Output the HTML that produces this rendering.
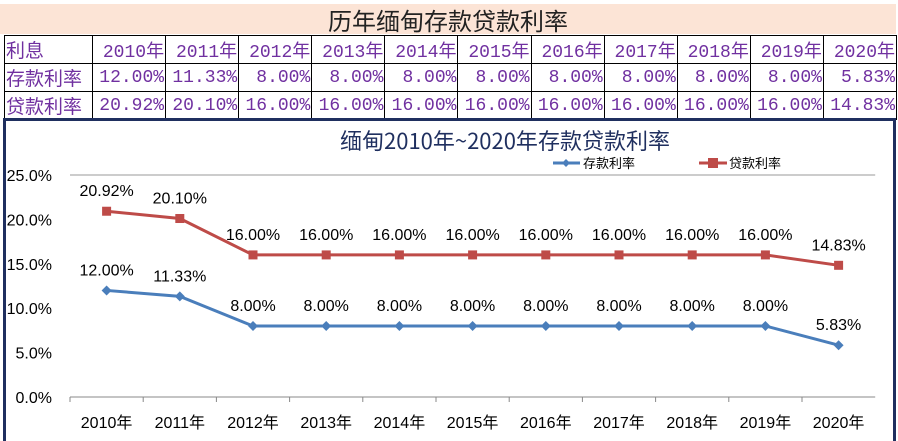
<!DOCTYPE html>
<html><head><meta charset="utf-8"><style>
body{margin:0;width:898px;height:441px;background:#fff;position:relative;overflow:hidden;font-family:"Liberation Sans","Noto Sans CJK SC",sans-serif}
#title{position:absolute;left:0;top:4px;width:896px;height:30px;background:#fce4d6;text-align:center;font:24px/32px "Noto Sans CJK SC","WenQuanYi Zen Hei",sans-serif;color:#222}
table{position:absolute;left:4px;top:35px;border-collapse:collapse;table-layout:fixed;width:892px;font-family:"Liberation Mono","Noto Sans CJK SC",monospace}
td{border:1.5px solid #000;height:23px;padding:0 1px;font-size:18px;text-align:right;white-space:nowrap;overflow:hidden;color:#7030a0}
tr:first-child td{color:#000;font-weight:bold;text-align:center;font-family:"Liberation Sans","Noto Sans CJK SC",sans-serif}
td:first-child{text-align:left;font-family:"Noto Sans CJK SC",sans-serif;font-size:19px}
tr:first-child td:first-child{text-align:left}
#box{position:absolute;left:3px;top:118px;width:887px;height:320px;border:3px solid #1f2f5f;border-bottom:none}
</style></head><body>
<div id="title">历年缅甸存款贷款利率</div>
<table id="tbl"><colgroup><col style="width:88px"><col span="11" style="width:73.1px"></colgroup></table>
<div id="box"></div>
<svg id="chart" width="898" height="441" style="position:absolute;left:0;top:0"></svg>
<script>
const years=["2010年","2011年","2012年","2013年","2014年","2015年","2016年","2017年","2018年","2019年","2020年"];
const deposit=[12.00,11.33,8.00,8.00,8.00,8.00,8.00,8.00,8.00,8.00,5.83];
const loan=[20.92,20.10,16.00,16.00,16.00,16.00,16.00,16.00,16.00,16.00,14.83];
const yTicks=[0,5,10,15,20,25];
const tbl=document.getElementById('tbl');
function row(label,cells,name){const tr=document.createElement('tr');


let h='<td>'+label+'</td>';
cells.forEach(c=>{h+='<td>'+c+'</td>'});tr.innerHTML=h;tbl.appendChild(tr);}
row('利息',years,'header-row');
row('存款利率',deposit.map(v=>v.toFixed(2)+'%'),'deposit-row');
row('贷款利率',loan.map(v=>v.toFixed(2)+'%'),'loan-row');
const svg=document.getElementById('chart');const NS='http://www.w3.org/2000/svg';
const x0=70,step=73.2,yb=397,ppu=222/25;
const X=i=>x0+step*(i+0.5),Y=v=>yb-v*ppu;
function el(t,a,txt){const e=document.createElementNS(NS,t);for(const k in a)e.setAttribute(k,a[k]);if(txt!=null)e.textContent=txt;svg.appendChild(e);return e;}
let t=el('text',{x:505,y:149,'text-anchor':'middle','font-size':22,fill:'#1f2f5f','font-family':'Noto Sans CJK SC,sans-serif'},'缅甸2010年~2020年存款贷款利率');


let g=el('line',{x1:x0,x2:x0+step*11,y1:Y(25),y2:Y(25),stroke:'#999'});


let ax=el('line',{x1:x0,x2:x0+step*11,y1:yb,y2:yb,stroke:'#888'});


yTicks.forEach(v=>{const e=el('text',{x:52,y:Y(v)+6,'text-anchor':'end','font-size':16,fill:'#000'},v.toFixed(1)+'%');

});
years.forEach((y,i)=>{const e=el('text',{x:X(i),y:428,'text-anchor':'middle','font-size':16,fill:'#000','font-family':'Liberation Sans,Noto Sans CJK SC,sans-serif'},y);


const tk=el('line',{x1:x0+step*i,x2:x0+step*i,y1:yb,y2:yb+5,stroke:'#888'});

});
function series(data,color,name,marker){
const p=el('polyline',{points:data.map((v,i)=>X(i)+','+Y(v)).join(' '),fill:'none',stroke:color,'stroke-width':3});


data.forEach((v,i)=>{let m;
if(marker==='d'){m=el('polygon',{points:`${X(i)},${Y(v)-5} ${X(i)+5},${Y(v)} ${X(i)},${Y(v)+5} ${X(i)-5},${Y(v)}`,fill:color});}
else{m=el('rect',{x:X(i)-4.5,y:Y(v)-4.5,width:9,height:9,fill:color});}


const l=el('text',{x:X(i),y:Y(v)-15,'text-anchor':'middle','font-size':16,fill:'#000'},v.toFixed(2)+'%');

});}
series(deposit,'#4a7ebb','deposit','d');
series(loan,'#be4b48','loan','s');
let lg1=el('line',{x1:553,x2:580,y1:163,y2:163,stroke:'#4a7ebb','stroke-width':3});


el('polygon',{points:'566,159 570,163 566,167 562,163',fill:'#4a7ebb'});
let lt1=el('text',{x:583,y:168,'font-size':13,fill:'#000','font-family':'Noto Sans CJK SC,sans-serif'},'存款利率');


let lg2=el('line',{x1:699,x2:727,y1:163,y2:163,stroke:'#be4b48','stroke-width':3});


el('rect',{x:708,y:158,width:10,height:10,fill:'#be4b48'});
let lt2=el('text',{x:729,y:168,'font-size':13,fill:'#000','font-family':'Noto Sans CJK SC,sans-serif'},'贷款利率');


</script>
</body></html>
